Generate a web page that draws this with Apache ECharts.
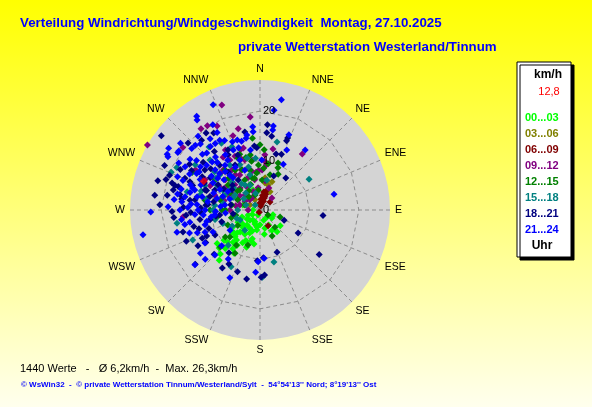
<!DOCTYPE html>
<html><head><meta charset="utf-8">
<script src="https://cdn.jsdelivr.net/npm/echarts@6/dist/echarts.min.js"></script>
<style>html,body{margin:0;padding:0;background:#fff;}#c{width:592px;height:407px;}</style>
</head><body><div id="c"></div>
<script>
// ---- data: [speed km/h, direction deg] ----
const directions = ['N','NNE','NE','ENE','E','ESE','SE','SSE','S','SSW','SW','WSW','W','WNW','NW','NNW'];
const radiusLabels = [0, 10, 20];
const legendNames = ['00...03','03...06','06...09','09...12','12...15','15...18','18...21','21...24'];
const legendColors = ['#00ff00','#808000','#800000','#800080','#008000','#008080','#000080','#0000ff'];

const h00_03 = [[13.1,219],[10.2,211],[8.5,213],[11.3,227],[6.5,196],[5.6,142],[5.5,338],[4.3,341],[3.6,313],[3.6,286],[3.9,249],[4.9,225],[6.0,222],[7.4,223],[7.3,231],[2.9,225],[2.6,203],[1.1,202],[2.0,135],[2.9,124],[3.8,165],[3.0,180],[4.0,221],[5.1,241],[6.5,238],[9.2,225],[7.7,218],[5.1,204],[4.1,189],[1.4,270],[2.6,247],[4.5,200],[6.8,205],[8.0,200],[5.8,212],[3.2,235],[7.0,230],[9.6,215],[2.2,160],[4.8,150],
  [3.0,200],[4.2,210],[5.5,218],[6.5,225],[7.5,208],[8.5,220],[9.5,230],[10.5,222],[3.5,190],[2.5,215],[1.8,240],[4.5,232],[6.0,195],[7.0,190],[5.0,170],[3.5,150],[2.8,110],[5.2,128],[12.0,222],[11.0,232]];
const h03_06 = [[6.2,23],[5.6,10],[5.3,18],[4.1,354],[6.6,9],[2.3,333],[4.2,29],[2.3,297]];
const h06_09 = [[0.5,200],[0.8,10],[1.2,12],[1.6,14],[2.0,12],[2.4,14],[2.8,15],[3.2,16],[3.6,16],[3.9,17],[1.4,0],[2.2,5],[3.0,10],[2.6,20],[1.9,22],[3.4,20],[3.6,153],[2.6,51],[3.7,12],[2.9,19]];
const h09_12 = [[26.3,300],[22.6,340],[18.9,354],[20.1,328],[19.1,333],[20.3,324],[20.1,309],[14.2,37],[12.6,12],[9.2,8],[15.6,265],[11.8,329],[8.2,330],[8.8,344],[6.2,350],[7.2,315],[9.3,311],[4.3,315],[4.9,294],[7.2,295],[10.2,351],[8.1,3],[9.6,288],[12.8,342],[9.9,325],[4.5,355],[2.4,270],[4.8,22],[3.4,45],[11.2,296],[15.4,302],[12.7,299],[11.2,5],[8.4,302],[8.7,325],[10.6,343],[2.9,315],[4.2,284],[6.1,270],[10.9,315],[7.7,354],
  [5.0,305],[6.0,318],[7.0,340],[8.0,348],[9.0,335],[10.0,320],[11.0,340],[12.0,335],[13.0,325],[6.5,300],[5.5,330],[4.0,340],[3.5,300],[7.5,285],[9.5,300],[14.0,330],[13.0,345],[10.0,5],[16.0,340],[17.0,345],[8.0,358],[6.0,10],[5.0,280],[3.0,330],[11.0,318]];
const h12_15 = [[10.2,21],[9.3,23],[8.1,27],[12.2,4],[14.6,354],[4.3,109],[4.6,139],[5.8,155],[10.1,210],[7.5,199],[8.6,214],[8.9,232],[8.2,228],[11.0,227],[6.8,333],[8.3,346],[5.7,315],[3.2,342],[5.8,280],[8.3,284],[10.1,270],[11.3,280],[10.8,319],[11.4,337],[13.2,0],[11.3,350],[7.4,16],[6.1,4],[10.9,304],[15.7,299],[1.9,122],[7.2,245],[9.5,328],[8.2,308],[8.9,336],[9.1,358],[6.7,346],[7.7,270],[5.0,258],[3.2,288],
  [4.5,330],[5.5,340],[6.5,350],[7.5,355],[8.5,5],[9.5,10],[10.0,350],[11.0,345],[12.0,340],[7.0,300],[6.0,310],[9.0,315],[5.0,295],[4.0,355],[3.5,320],[8.0,290],[7.0,270],[6.0,255],[5.5,235],[9.0,260]];
const h15_18 = [[11.7,58],[14.2,14],[10.9,165],[13.6,178],[12.9,207],[14.9,246],[17.0,261],[18.9,297],[19.5,293],[15.2,284],[16.4,321],[15.6,330],[10.0,336],[7.3,304],[10.8,311],[5.4,338],[4.5,270],[1.4,315],[14.3,315],[12.5,284],[9.6,222],[5.1,217],[10.8,346],[6.2,13],[9.3,258],[5.9,301],[5.9,329],[7.7,293],[9.2,276],[10.9,326],[7.4,344],[12.2,294],[4.5,243],
  [6.0,295],[7.0,310],[8.0,315],[9.0,320],[6.5,325],[8.5,298],[10.0,300],[11.0,306],[12.0,310],[13.0,318],[14.0,336],[4.5,320],[3.5,345],[9.0,345],[10.5,355],[7.5,280],[9.5,270],[11.0,282],[12.5,288],[5.0,250],[6.5,240],[8.0,250],[3.0,290],[4.0,305],[16.0,305]];
const h18_21 = [[25.0,307],[17.3,5],[16.1,349],[19.0,325],[18.4,320],[18.2,329],[15.1,9],[15.7,5],[15.6,21],[15.0,21],[13.0,355],[12.6,357],[11.8,16],[12.1,21],[7.4,22],[8.3,39],[12.8,95],[9.0,121],[15.0,127],[5.3,113],[9.2,158],[9.7,176],[13.2,176],[13.6,179],[14.2,191],[13.3,200],[14.0,213],[12.6,210],[10.7,216],[12.9,226],[10.4,241],[17.1,230],[16.2,247],[13.8,256],[12.9,253],[13.0,244],[12.8,239],[16.2,254],[17.8,269],[18.6,287],[17.9,286],[17.2,286],[19.9,313],[10.3,183],[18.1,297],[16.5,293],[15.3,292],[16.5,281],[12.1,268],[11.8,290],[12.0,303],[12.2,318],[12.9,330],[10.4,331],[9.9,301],[10.3,259],[8.1,253],[13.3,279],[15.0,266],[21.3,295],[19.6,291],[21.5,286],[21.5,278],[20.3,273],[7.5,324],[10.0,294],[10.6,276],[8.2,263],[13.8,306],[13.8,332],[14.3,278],[12.3,261],[7.0,306],
  [9.5,280],[10.5,285],[11.5,290],[12.5,296],[13.5,300],[11.0,275],[12.0,272],[14.0,268],[15.5,272],[16.0,278],[14.5,290],[13.0,310],[15.0,310],[16.0,300],[17.0,303],[11.0,250],[12.0,244],[14.5,240],[9.0,262],[8.5,300],[18.0,283],[19.0,279],[20.0,288],[17.5,265],[10.0,320],[7.5,312],[6.0,280],[5.5,262],[15.0,322],[12.0,338]];
const h21_24 = [[22.7,11],[23.3,336],[20.4,8],[22.9,326],[22.2,325],[19.7,331],[17.2,9],[16.4,9],[17.9,331],[16.3,21],[15.2,37],[13.3,24],[22.3,304],[21.9,301],[21.5,300],[20.3,306],[15.3,78],[22.1,269],[24.2,258],[17.4,255],[14.9,234],[14.9,228],[15.0,204],[12.6,184],[10.5,182],[9.8,175],[11.8,213],[10.4,27],[16.9,355],[15.9,355],[15.4,350],[14.8,349],[17.6,325],[18.5,315],[18.6,312],[20.3,305],[17.5,277],[18.6,272],[12.9,225],[10.6,227],[13.0,239],[17.5,306],[16.3,308],[16.2,314],[15.8,317],[16.3,322],[16.2,326],[16.3,330],[15.8,333],[14.9,338],[14.9,342],[14.4,345],[13.3,341],[14.8,300],[14.3,288],[14.6,284],[15.4,280],[15.9,276],[12.8,275],[12.0,283],[10.7,279],[14.6,272],[13.7,315],[12.9,318],[14.1,310],[14.9,306],[12.2,312],[13.6,297],[17.2,230],[9.1,297],[9.3,319],[7.2,278],[9.2,264],[11.5,255],[13.2,266],[15.5,259],[10.9,338],[12.3,351],[10.1,2],[8.6,339],[7.3,236],[10.5,245],[10.7,307],[13.8,287],[11.1,270],[16.7,291],[14.4,260],[16.2,270],[13.2,328],[13.3,336],
  [9.0,285],[10.0,290],[11.0,300],[12.0,305],[13.0,293],[9.5,310],[10.5,318],[11.5,322],[8.0,275],[9.0,268],[10.0,262],[11.5,265],[12.5,270],[14.0,275],[13.0,282],[15.0,290],[16.0,297],[14.5,302],[11.0,312],[12.0,327],[10.0,330],[8.5,320],[7.5,300],[8.0,290],[16.5,285],[17.0,281],[18.0,292],[19.0,300],[17.5,300],[13.5,250],[12.0,248],[11.0,258],[15.0,252],[16.0,263],[6.5,290],[7.0,265],[14.0,320],[18.0,318],[19.5,320],[21.0,310]];
const current = [[12.8, 297]];
const maxSpeed = 26.3;

const FONT = 'Liberation Sans, Arial, sans-serif';
const groups = [h00_03, h03_06, h06_09, h09_12, h12_15, h15_18, h18_21, h21_24];

const chart = echarts.init(document.getElementById('c'));
const series = groups.map((d, i) => ({
  type: 'scatter', coordinateSystem: 'polar', polarIndex: 1, name: legendNames[i], data: d,
  symbol: 'diamond', symbolSize: 7, itemStyle: { color: legendColors[i], opacity: 1 },
  silent: true, z: 2
}));
series.push({
  type: 'scatter', coordinateSystem: 'polar', polarIndex: 1, name: 'aktuell', data: current,
  symbol: 'diamond', symbolSize: 8, itemStyle: { color: '#ff0000' }, silent: true, z: 4
});

chart.setOption({
  animation: false,
  backgroundColor: new echarts.graphic.LinearGradient(0, 0, 0, 1, [
    { offset: 0, color: '#ffff00' }, { offset: 1, color: '#ffffee' }
  ]),
  title: [
    { text: 'Verteilung Windrichtung/Windgeschwindigkeit  Montag, 27.10.2025', left: 20, top: 17, padding: 0,
      textStyle: { fontSize: 13.3, fontWeight: 'bold', color: '#0000ff', fontFamily: FONT } },
    { text: 'private Wetterstation Westerland/Tinnum', left: 238, top: 41, padding: 0,
      textStyle: { fontSize: 13.3, fontWeight: 'bold', color: '#0000ff', fontFamily: FONT } },
    { text: '1440 Werte   -   Ø 6,2km/h  -  Max. 26,3km/h', left: 20, top: 363, padding: 0,
      textStyle: { fontSize: 11, fontWeight: 'normal', color: '#000', fontFamily: FONT } },
    { text: '© WsWin32  -  © private Wetterstation Tinnum/Westerland/Sylt  -  54°54\'13\'\' Nord; 8°19\'13\'\' Ost', left: 21, top: 381, padding: 0,
      textStyle: { fontSize: 8, fontWeight: 'bold', color: '#0000ff', fontFamily: FONT } }
  ],
  legend: {
    orient: 'vertical', left: 520, top: 111, padding: 0, itemGap: 2,
    itemWidth: 0, itemHeight: 14, selectedMode: false, z: 10,
    data: legendNames.map((n, i) => ({ name: n, textStyle: { color: legendColors[i] } })),
    textStyle: { fontSize: 11, fontWeight: 'bold', fontFamily: FONT }
  },
  polar: [
    { center: [260, 210], radius: 130 },
    { center: [260, 210], radius: 130 }
  ],
  angleAxis: [
    { polarIndex: 0, type: 'value', min: 0, max: 360, interval: 22.5, startAngle: 90, clockwise: true, z: 0,
      axisLine: { show: false }, axisTick: { show: false }, axisLabel: { show: false },
      splitLine: { show: false },
      splitArea: { show: true, areaStyle: { color: ['#d4d4d4'] } } },
    { polarIndex: 1, type: 'value', min: 0, max: 360, interval: 22.5, startAngle: 90, clockwise: true, z: 1,
      axisLine: { show: false }, axisTick: { show: false },
      axisLabel: { margin: 5, fontSize: 10.5, color: '#000', fontFamily: FONT,
        formatter: v => { const i = Math.round(v / 22.5); return i < 16 ? directions[i] : ''; } },
      splitLine: { show: true, lineStyle: { color: '#8c8c8c', type: [4, 3], width: 1 } },
      splitArea: { show: false } }
  ],
  radiusAxis: [
    { polarIndex: 0, type: 'value', min: 0, max: maxSpeed, show: false, z: 0 },
    { polarIndex: 1, type: 'value', min: 0, max: maxSpeed, interval: 10, zlevel: 1, z: 10,
      axisLine: { show: false }, axisTick: { show: false }, splitLine: { show: false },
      axisLabel: { margin: -3, align: 'left', fontSize: 11, color: '#000', fontFamily: FONT, showMaxLabel: false, showMinLabel: true,
        formatter: v => (radiusLabels.indexOf(v) >= 0 ? String(v) : '') } }
  ],
  radar: {
    center: [260, 210], radius: 130 * 20 / maxSpeed, startAngle: 90, splitNumber: 2, shape: 'polygon', z: 1,
    indicator: directions.map(d => ({ name: d, min: 0, max: 20 })),
    axisName: { show: false }, axisLine: { show: false }, axisTick: { show: false }, axisLabel: { show: false },
    splitLine: { lineStyle: { color: '#8c8c8c', type: [4, 3], width: 1 } },
    splitArea: { show: false }
  },
  graphic: [
    { type: 'rect', z: 5, shape: { x: 517, y: 62, width: 54, height: 195 },
      style: { fill: '#fff', stroke: '#000', lineWidth: 1, shadowColor: '#000', shadowOffsetX: 3, shadowOffsetY: 3, shadowBlur: 0 } },
    { type: 'text', z: 11, x: 548, y: 75, style: { text: 'km/h', fill: '#000', font: 'bold 12px ' + FONT, textAlign: 'center', textVerticalAlign: 'middle' } },
    { type: 'text', z: 11, x: 549, y: 92, style: { text: '12,8', fill: '#ff0000', font: '11px ' + FONT, textAlign: 'center', textVerticalAlign: 'middle' } },
    { type: 'text', z: 11, x: 542, y: 246, style: { text: 'Uhr', fill: '#000', font: 'bold 12px ' + FONT, textAlign: 'center', textVerticalAlign: 'middle' } }
  ],
  series: series
});
</script></body></html>
